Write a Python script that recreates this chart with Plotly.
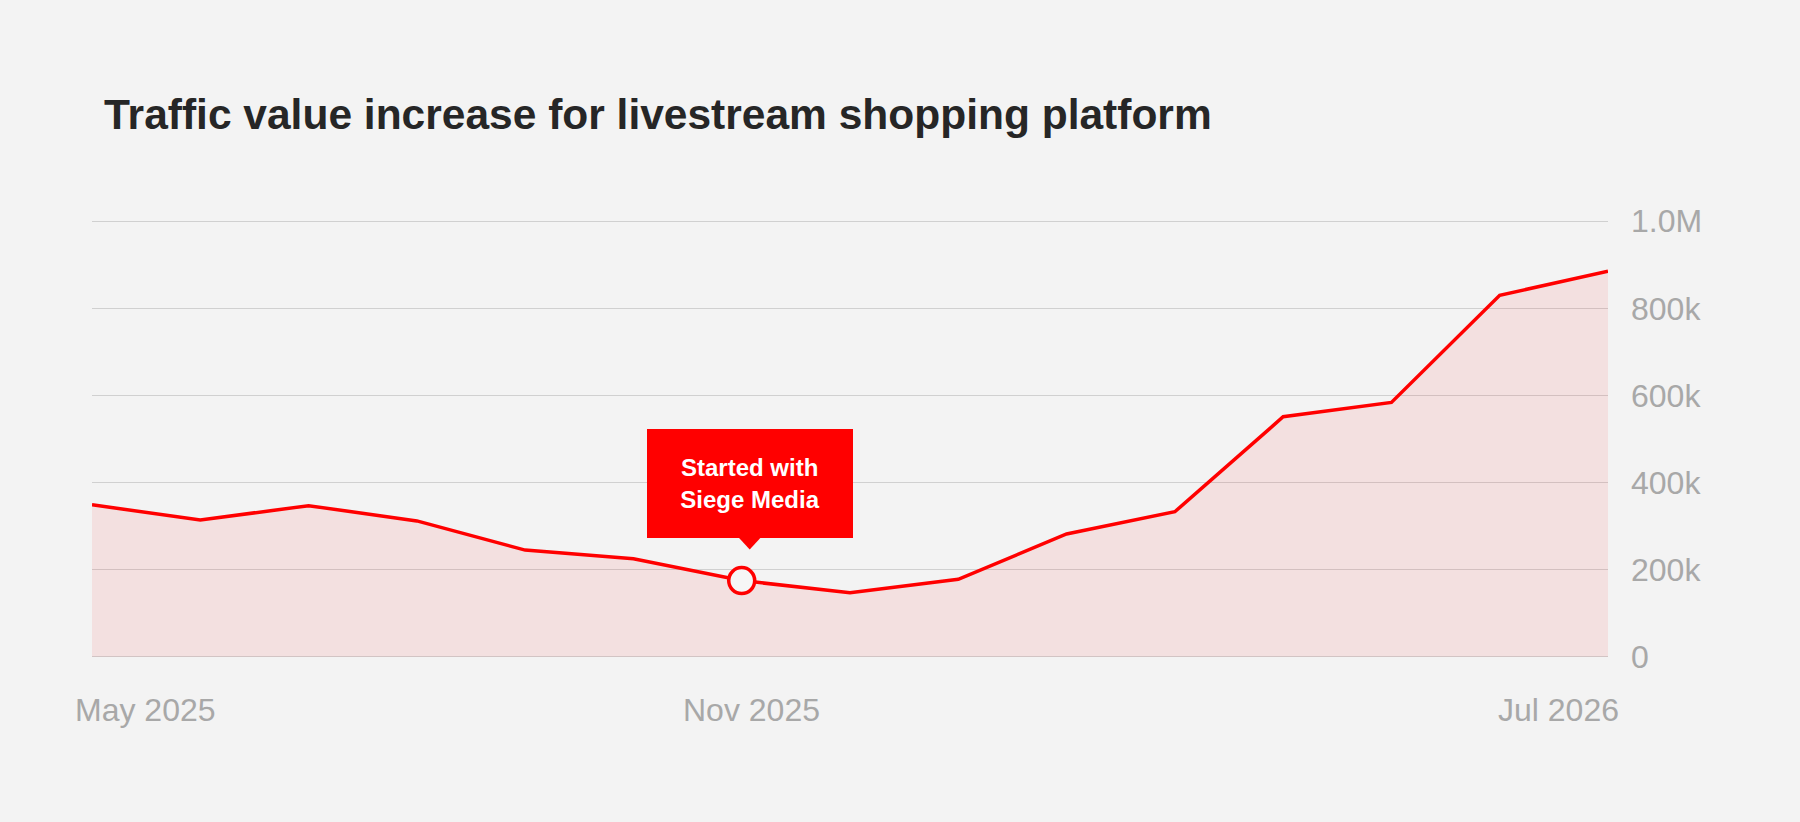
import plotly.graph_objects as go

# ---- data ----
months = ["May 2025", "Jun 2025", "Jul 2025", "Aug 2025", "Sep 2025", "Oct 2025",
          "Nov 2025", "Dec 2025", "Jan 2026", "Feb 2026", "Mar 2026", "Apr 2026",
          "May 2026", "Jun 2026", "Jul 2026"]
traffic_value = [349000, 314000, 347000, 312000, 245000, 225000,
                 175000, 147000, 178000, 282000, 333000, 551000,
                 584000, 830000, 885000]
x_tick_labels = ["May 2025", "Nov 2025", "Jul 2026"]
y_tick_vals = [0, 200000, 400000, 600000, 800000, 1000000]
y_tick_text = ["0", "200k", "400k", "600k", "800k", "1.0M"]
event_month = "Nov 2025"
event_label = "Started with<br>Siege Media"
title_text = "Traffic value increase for livestream shopping platform"

RED = "#ff0000"
BG = "#f3f3f3"
GRID = "#d0d0d0"
TICK = "#a8a8a8"
FONT = "Liberation Sans, Arial, Helvetica, sans-serif"

event_value = traffic_value[months.index(event_month)]
CALLOUT_SHIFT = 8

fig = go.Figure()
fig.add_trace(go.Scatter(
    x=months, y=traffic_value, mode="lines",
    line=dict(color=RED, width=3.5),
    fill="tozeroy", fillcolor="rgba(255,0,0,0.075)",
    hoverinfo="skip", showlegend=False,
))
fig.add_trace(go.Scatter(
    x=[event_month], y=[event_value], mode="markers",
    marker=dict(size=26, color="#f6f6f6", line=dict(color=RED, width=3.5)),
    hoverinfo="skip", showlegend=False,
))

annotations = []
# callout box
annotations.append(dict(
    x=event_month, y=event_value, xref="x", yref="y",
    text=event_label, showarrow=False,
    xanchor="center", yanchor="bottom", yshift=43, xshift=CALLOUT_SHIFT,
    width=206, height=109, borderpad=0, borderwidth=0,
    bgcolor=RED, align="center",
    font=dict(family=FONT, size=24, color="white", weight="bold"),
))
# x tick labels
anchors = ["left", "center", "right"]
shifts = [-19, 10, 13]
for lab, anc, sh in zip(x_tick_labels, anchors, shifts):
    annotations.append(dict(
        x=lab, y=0, xref="x", yref="paper", text=lab, showarrow=False,
        xanchor=anc, yanchor="top", xshift=sh, yshift=-31,
        font=dict(family=FONT, size=32, color=TICK),
    ))

s = CALLOUT_SHIFT
fig.update_layout(
    width=1800, height=822,
    paper_bgcolor=BG, plot_bgcolor=BG,
    margin=dict(l=92, r=192, t=219, b=163),
    title=dict(
        text=title_text, xref="container", yref="container",
        x=104 / 1800, xanchor="left", y=1 - 114 / 822, yanchor="middle",
        font=dict(family=FONT, size=42.5, color="#262626", weight="bold"),
    ),
    xaxis=dict(
        type="category", range=[0, len(months) - 1],
        showgrid=False, zeroline=False, showline=False,
        showticklabels=False, ticks="",
    ),
    yaxis=dict(
        side="right", range=[-5000, 1005000],
        tickvals=y_tick_vals, ticktext=y_tick_text,
        showgrid=True, gridcolor=GRID, gridwidth=1,
        zeroline=False, showline=False, ticks="",
        ticklabelstandoff=22,
        tickfont=dict(family=FONT, size=32, color=TICK),
    ),
    annotations=annotations,
    shapes=[dict(
        type="path", xref="x", yref="y",
        xsizemode="pixel", ysizemode="pixel",
        xanchor=event_month, yanchor=event_value,
        path=f"M {s-12} 44 L {s+12} 44 L {s} 31 Z",
        fillcolor=RED, line=dict(width=0), layer="above",
    )],
)

fig.write_html("out.html")
